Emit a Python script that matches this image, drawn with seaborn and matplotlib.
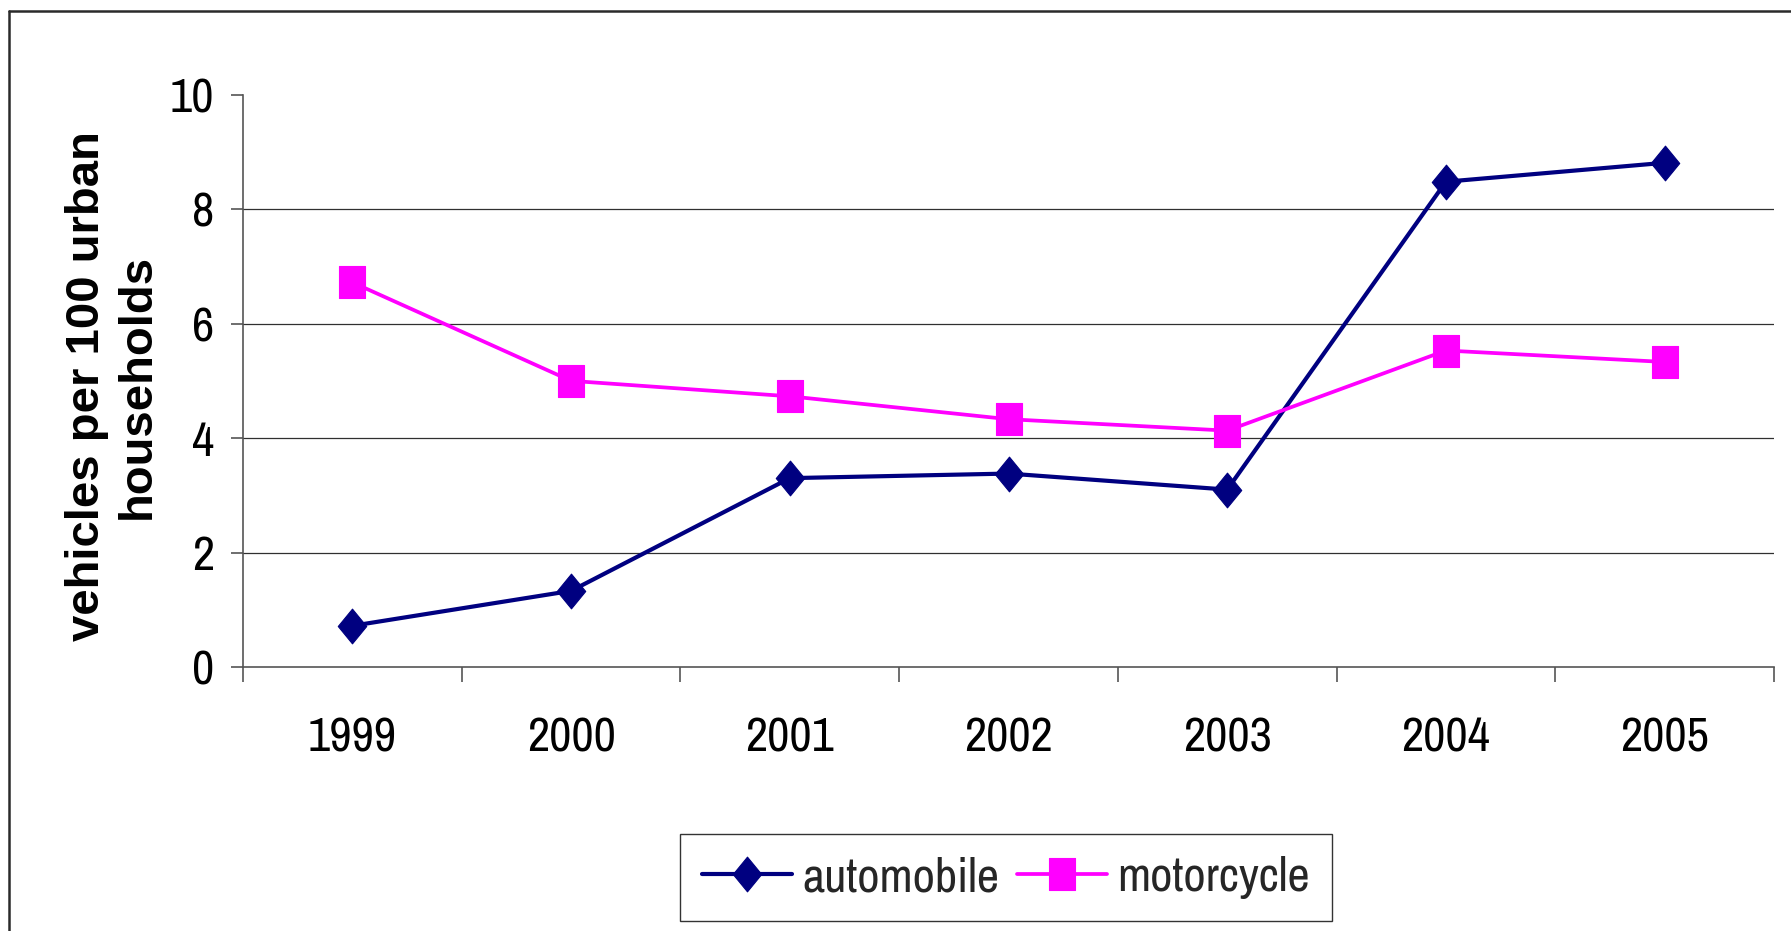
import matplotlib
matplotlib.use("Agg")
import matplotlib.pyplot as plt
from matplotlib import font_manager
from matplotlib.lines import Line2D
from matplotlib.path import Path
import seaborn as sns
import pandas as pd

years = ["1999", "2000", "2001", "2002", "2003", "2004", "2005"]
automobile = [0.72, 1.33, 3.30, 3.38, 3.10, 8.48, 8.81]
motorcycle = [6.72, 5.00, 4.73, 4.33, 4.13, 5.53, 5.33]
series_names = ["automobile", "motorcycle"]
y_ticks = [0, 2, 4, 6, 8, 10]
y_label = "vehicles per 100 urban\nhouseholds"

sns.set_theme(style="white")

available = {f.name for f in font_manager.fontManager.ttflist}
narrow = "Liberation Sans"
for cand in ["Liberation Sans Narrow", "Arial Narrow", "Archivo Narrow", "Roboto Condensed",
             "PT Sans Narrow", "Open Sans Condensed"]:
    if cand in available:
        narrow = cand
        break
tick_size = 35
plt.rcParams["font.family"] = [narrow, "Liberation Sans", "DejaVu Sans"]

W, H = 1791, 931
fig = plt.figure(figsize=(W / 100, H / 100), dpi=100)
ax = fig.add_axes([243 / W, 1 - 667 / H, (1774 - 243) / W, (667 - 94.7) / H])

df = pd.DataFrame({"year": years * 2,
                   "value": automobile + motorcycle,
                   "series": [series_names[0]] * len(years) + [series_names[1]] * len(years)})

diamond = Path([(0, -1), (0.82, 0), (0, 1), (-0.82, 0), (0, -1)],
               [Path.MOVETO, Path.LINETO, Path.LINETO, Path.LINETO, Path.CLOSEPOLY])
rect = Path([(-0.8, -1), (0.8, -1), (0.8, 1), (-0.8, 1), (-0.8, -1)],
            [Path.MOVETO, Path.LINETO, Path.LINETO, Path.LINETO, Path.CLOSEPOLY])

styles = {
    "automobile": dict(color="#000080", marker=diamond, ms=25, lw=3.0),
    "motorcycle": dict(color="#FF00FF", marker=rect, ms=23, lw=2.7),
}
for name in series_names:
    st = styles[name]
    sub = df[df["series"] == name]
    sns.lineplot(data=sub, x="year", y="value", ax=ax, color=st["color"],
                 marker=st["marker"], markersize=st["ms"], linewidth=st["lw"],
                 markeredgewidth=0.8, markeredgecolor=st["color"],
                 label=name, legend=False, zorder=3)

ax.set_xlim(-0.5, len(years) - 0.5)
ax.set_ylim(0, 10)
ax.set_yticks(y_ticks)
ax.set_yticklabels([str(t) for t in y_ticks])
ax.set_xticks(range(len(years)))
ax.set_xticklabels(years)
ax.set_xticks([i - 0.5 for i in range(len(years) + 1)], minor=True)
ax.set_xlabel("")
ax.set_ylabel("")

ax.yaxis.grid(True, color="#303030", linewidth=0.9)
ax.xaxis.grid(False)
ax.get_ygridlines()[-1].set_visible(False)
ax.get_ygridlines()[0].set_visible(False)
ax.set_axisbelow(True)

for s in ["top", "right"]:
    ax.spines[s].set_visible(False)
for s in ["left", "bottom"]:
    ax.spines[s].set_color("#555555")
    ax.spines[s].set_linewidth(1.2)

ax.tick_params(axis="x", which="major", length=0, pad=35.5, labelsize=tick_size, labelcolor="black")
ax.tick_params(axis="x", which="minor", length=11, width=1.2, color="#555555", direction="out", bottom=True)
ax.tick_params(axis="y", which="major", length=9, width=1.2, color="#555555", direction="out",
               left=True, pad=12, labelsize=tick_size, labelcolor="black")

fig.text(112 / W, 1 - 386 / H, y_label, rotation=90, ha="center", va="center",
         fontsize=34, fontweight="bold", family=["Liberation Sans", "DejaVu Sans"],
         multialignment="center", linespacing=1.2, color="black")

handles = [Line2D([], [], color=styles[n]["color"], marker=styles[n]["marker"],
                  markersize=styles[n]["ms"], linewidth=styles[n]["lw"],
                  markeredgewidth=0.8, markeredgecolor=styles[n]["color"]) for n in series_names]
leg = fig.legend(handles, series_names, loc="center", bbox_to_anchor=(1006 / W, 1 - 877.5 / H),
                 bbox_transform=fig.transFigure, ncol=2, fontsize=tick_size, frameon=True,
                 fancybox=False, edgecolor="black", handlelength=1.85, handletextpad=0.2,
                 columnspacing=0.38, borderpad=0.45)
leg.get_frame().set_linewidth(1.0)

fig.add_artist(Line2D([9 / W, 1.01], [1 - 11 / H, 1 - 11 / H], transform=fig.transFigure,
                      color="#2a2a2a", linewidth=1.8))
fig.add_artist(Line2D([9 / W, 9 / W], [1 - 11 / H, -0.01], transform=fig.transFigure,
                      color="#2a2a2a", linewidth=1.8))

fig.savefig("out.png", dpi=100, facecolor="white")
